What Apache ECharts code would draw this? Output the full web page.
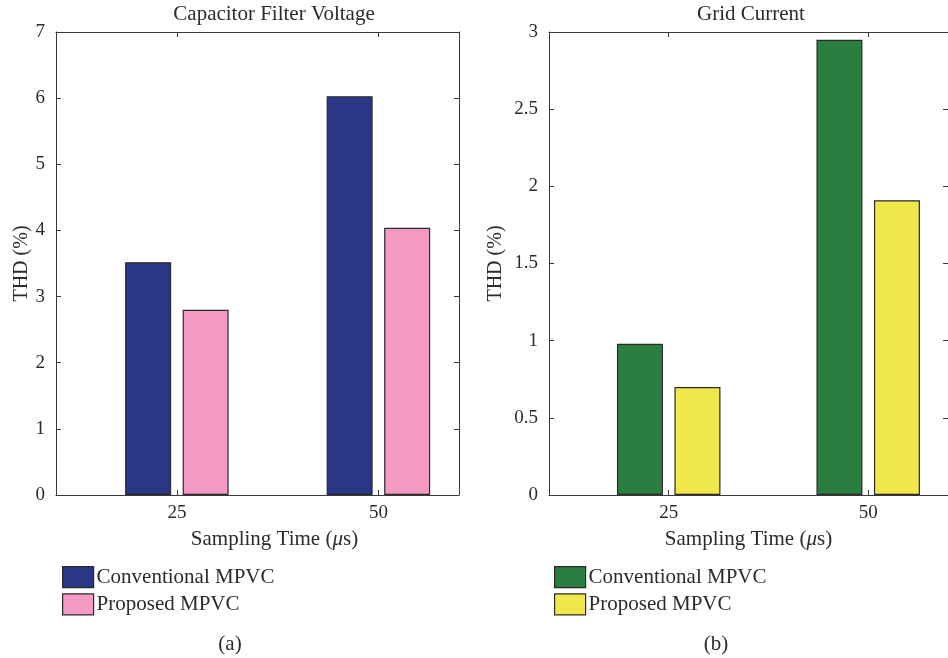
<!DOCTYPE html>
<html>
<head>
<meta charset="utf-8">
<script src="https://cdn.jsdelivr.net/npm/echarts@6/dist/echarts.min.js"></script>
<style>
  html, body { margin: 0; padding: 0; background: #fff; }
  #chart { width: 948px; height: 658px; }
</style>
</head>
<body>
<div id="chart"></div>
<script>
// Sampling times (µs) and THD values (%)
const samplingTimes = [25, 50];
const capConventional = [3.52, 6.03];
const capProposed = [2.80, 4.04];
const gridConventional = [0.98, 2.95];
const gridProposed = [0.70, 1.91];
const capYTicks = [0, 1, 2, 3, 4, 5, 6, 7];
const gridYTicks = [0, 0.5, 1, 1.5, 2, 2.5, 3];

const FONT = '"Liberation Serif", "DejaVu Serif", serif';
const TEXT = '#2b2b2b';
const AXIS = '#3a3a3a';

const chart = echarts.init(document.getElementById('chart'), null, { renderer: 'canvas' });

function pairs(values) {
  return samplingTimes.map((t, i) => [t, values[i]]);
}

function xAxes(gridIndex) {
  const common = {
    type: 'value', gridIndex: gridIndex, min: 10, max: 60,
    splitLine: { show: false },
    axisLine: { show: true, onZero: false, lineStyle: { color: AXIS, width: 1 } },
    axisTick: { show: true, inside: true, length: 5, customValues: samplingTimes, lineStyle: { color: AXIS } }
  };
  return [
    Object.assign({}, common, {
      position: 'bottom',
      axisLabel: { customValues: samplingTimes, margin: 9, fontFamily: FONT, fontSize: 19, color: TEXT },
      name: '{n|Sampling Time (}{i|\u03bc}{n|s)}', nameLocation: 'middle', nameGap: 34,
      nameTextStyle: {
        fontFamily: FONT, fontSize: 21, color: TEXT,
        padding: gridIndex === 0 ? [0, 0, 0, 34] : 0,
        rich: {
          n: { fontFamily: FONT, fontSize: 21, color: TEXT },
          i: { fontFamily: FONT, fontSize: 21, color: TEXT, fontStyle: 'italic' }
        }
      }
    }),
    Object.assign({}, common, { position: 'top', axisLabel: { show: false } })
  ];
}

function yAxes(gridIndex, ticks, nameGap) {
  const step = ticks[1] - ticks[0];
  const common = {
    type: 'value', gridIndex: gridIndex, min: ticks[0], max: ticks[ticks.length - 1], interval: step,
    splitLine: { show: false },
    axisLine: { show: true, onZero: false, lineStyle: { color: AXIS, width: 1 } },
    axisTick: { show: true, inside: true, length: 5, lineStyle: { color: AXIS } }
  };
  return [
    Object.assign({}, common, {
      position: 'left',
      axisLabel: { margin: 11, fontFamily: FONT, fontSize: 19, color: TEXT },
      name: 'THD (%)', nameLocation: 'middle', nameGap: nameGap, nameRotate: 90,
      nameTextStyle: { fontFamily: FONT, fontSize: 20, color: TEXT }
    }),
    Object.assign({}, common, { position: 'right', axisLabel: { show: false } })
  ];
}

function barSeries(name, values, color, axisIdx) {
  return {
    type: 'bar', name: name,
    xAxisIndex: axisIdx, yAxisIndex: axisIdx,
    data: pairs(values),
    barWidth: 46, barGap: '25%',
    itemStyle: { color: color, borderColor: '#2a2a2a', borderWidth: 1.2 },
    emphasis: { disabled: true },
    animation: false
  };
}

function legendFor(left, names, colors) {
  return {
    left: left, top: 566, orient: 'vertical', padding: 0,
    itemWidth: 31, itemHeight: 21, itemGap: 5,
    icon: 'rect',
    textStyle: { fontFamily: FONT, fontSize: 21, color: TEXT, padding: [0, 0, 0, -2] },
    data: names.map((n, i) => ({ name: n, itemStyle: { color: colors[i], borderColor: '#2a2a2a', borderWidth: 1.2 } })),
    selectedMode: false
  };
}

const BLUE = '#293785', PINK = '#f29ac4', GREEN = '#297e40', YELLOW = '#f0e84a';

const headStyle = { fontFamily: FONT, fontSize: 21, fontWeight: 'normal', color: TEXT };

const option = {
  backgroundColor: '#ffffff',
  animation: false,
  title: [
    { text: 'Capacitor Filter Voltage', left: 274, top: 4, textAlign: 'center', padding: 0, textStyle: headStyle },
    { text: 'Grid Current', left: 751, top: 4, textAlign: 'center', padding: 0, textStyle: headStyle },
    { text: '(a)', left: 230, top: 634, textAlign: 'center', padding: 0, textStyle: headStyle },
    { text: '(b)', left: 716, top: 634, textAlign: 'center', padding: 0, textStyle: headStyle }
  ],
  grid: [
    { left: 56, top: 32, width: 403, height: 463 },
    { left: 549, top: 32, width: 403, height: 463 }
  ],
  xAxis: [...xAxes(0), ...xAxes(1)],
  yAxis: [...yAxes(0, capYTicks, 24), ...yAxes(1, gridYTicks, 43)],
  legend: [
    legendFor(62, ['Conventional MPVC ', 'Proposed MPVC '], [BLUE, PINK]),
    legendFor(554, ['Conventional MPVC', 'Proposed MPVC'], [GREEN, YELLOW])
  ],
  series: [
    barSeries('Conventional MPVC ', capConventional, BLUE, 0),
    barSeries('Proposed MPVC ', capProposed, PINK, 0),
    barSeries('Conventional MPVC', gridConventional, GREEN, 2),
    barSeries('Proposed MPVC', gridProposed, YELLOW, 2)
  ]
};

chart.setOption(option);
</script>
</body>
</html>
